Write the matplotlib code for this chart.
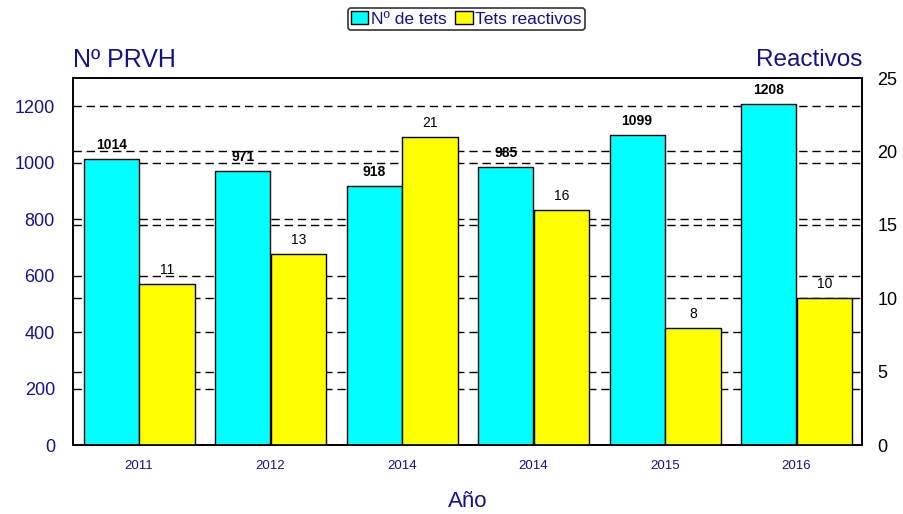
import matplotlib.pyplot as plt
import matplotlib.transforms as mtransforms
import numpy as np

plt.rcParams["font.family"] = ["Liberation Sans", "DejaVu Sans"]

years = ["2011", "2012", "2014", "2014", "2015", "2016"]
tests = [1014, 971, 918, 985, 1099, 1208]
reactive = [11, 13, 21, 16, 8, 10]
left_ticks = [0, 200, 400, 600, 800, 1000, 1200]
right_ticks = [0, 5, 10, 15, 20, 25]

navy = "#12128a"
dash = (0, (6, 3.5))

fig = plt.figure(figsize=(9.04, 5.14), dpi=100)
ax = fig.add_axes([0.0808, 0.1342, 0.8727, 0.7140])
ax2 = ax.twinx()

x = np.arange(len(years))
width = 0.42

ax.set_xlim(-0.5, len(years) - 0.5)
ax.set_ylim(0, 1300)
ax2.set_ylim(0, 25)

# grid lines for both scales, drawn under the bars
for v in left_ticks[1:]:
    ax.axhline(v, color="black", lw=1, linestyle=dash, zorder=0)
blend = mtransforms.blended_transform_factory(ax.transAxes, ax2.transData)
for v in right_ticks[1:-1]:
    ax.plot([0, 1], [v, v], transform=blend, color="black", lw=1,
            linestyle=dash, zorder=0)

b1 = ax.bar(x - width, tests, width, align="edge", color="#00ffff",
            edgecolor="black", linewidth=1, zorder=2, label="Nº de tets")
b2 = ax2.bar(x + 0.005, reactive, width, align="edge", color="#ffff00",
             edgecolor="black", linewidth=1, zorder=2, label="Tets reactivos")

ax.bar_label(b1, padding=5, fontsize=10, fontweight="bold", color="black")
ax2.bar_label(b2, padding=5, fontsize=10, color="black")

ax.set_xticks(x)
ax.set_xticklabels(years, fontsize=9.5, color=navy)
ax.set_yticks(left_ticks)
ax.set_yticklabels([str(v) for v in left_ticks], fontsize=13, color=navy)
ax2.set_yticks(right_ticks)
ax2.set_yticklabels([str(v) for v in right_ticks], fontsize=13, color="black")
ax.tick_params(axis="x", length=0, pad=11)
ax.tick_params(axis="y", length=0, pad=13)
ax2.tick_params(axis="y", length=0, pad=11)

for a in (ax, ax2):
    for s in a.spines.values():
        s.set_linewidth(1.2)

fig.text(0.0808, 0.883, "Nº PRVH", fontsize=18, color=navy, ha="left", va="center")
fig.text(0.9535, 0.883, "Reactivos", fontsize=17.5, color=navy, ha="right", va="center")
fig.text(0.517, 0.024, "Año", fontsize=16, color=navy, ha="center", va="center")

leg = fig.legend(handles=[b1, b2], loc="center", bbox_to_anchor=(0.516, 0.963),
                 ncol=2, fontsize=12.5, frameon=True, fancybox=True,
                 handlelength=1.0, handleheight=0.75, handletextpad=0.15,
                 columnspacing=0.5, borderpad=0.2, labelcolor=navy)
leg.get_frame().set_edgecolor("black")
leg.get_frame().set_linewidth(1.2)

fig.savefig("out.png", dpi=100)
